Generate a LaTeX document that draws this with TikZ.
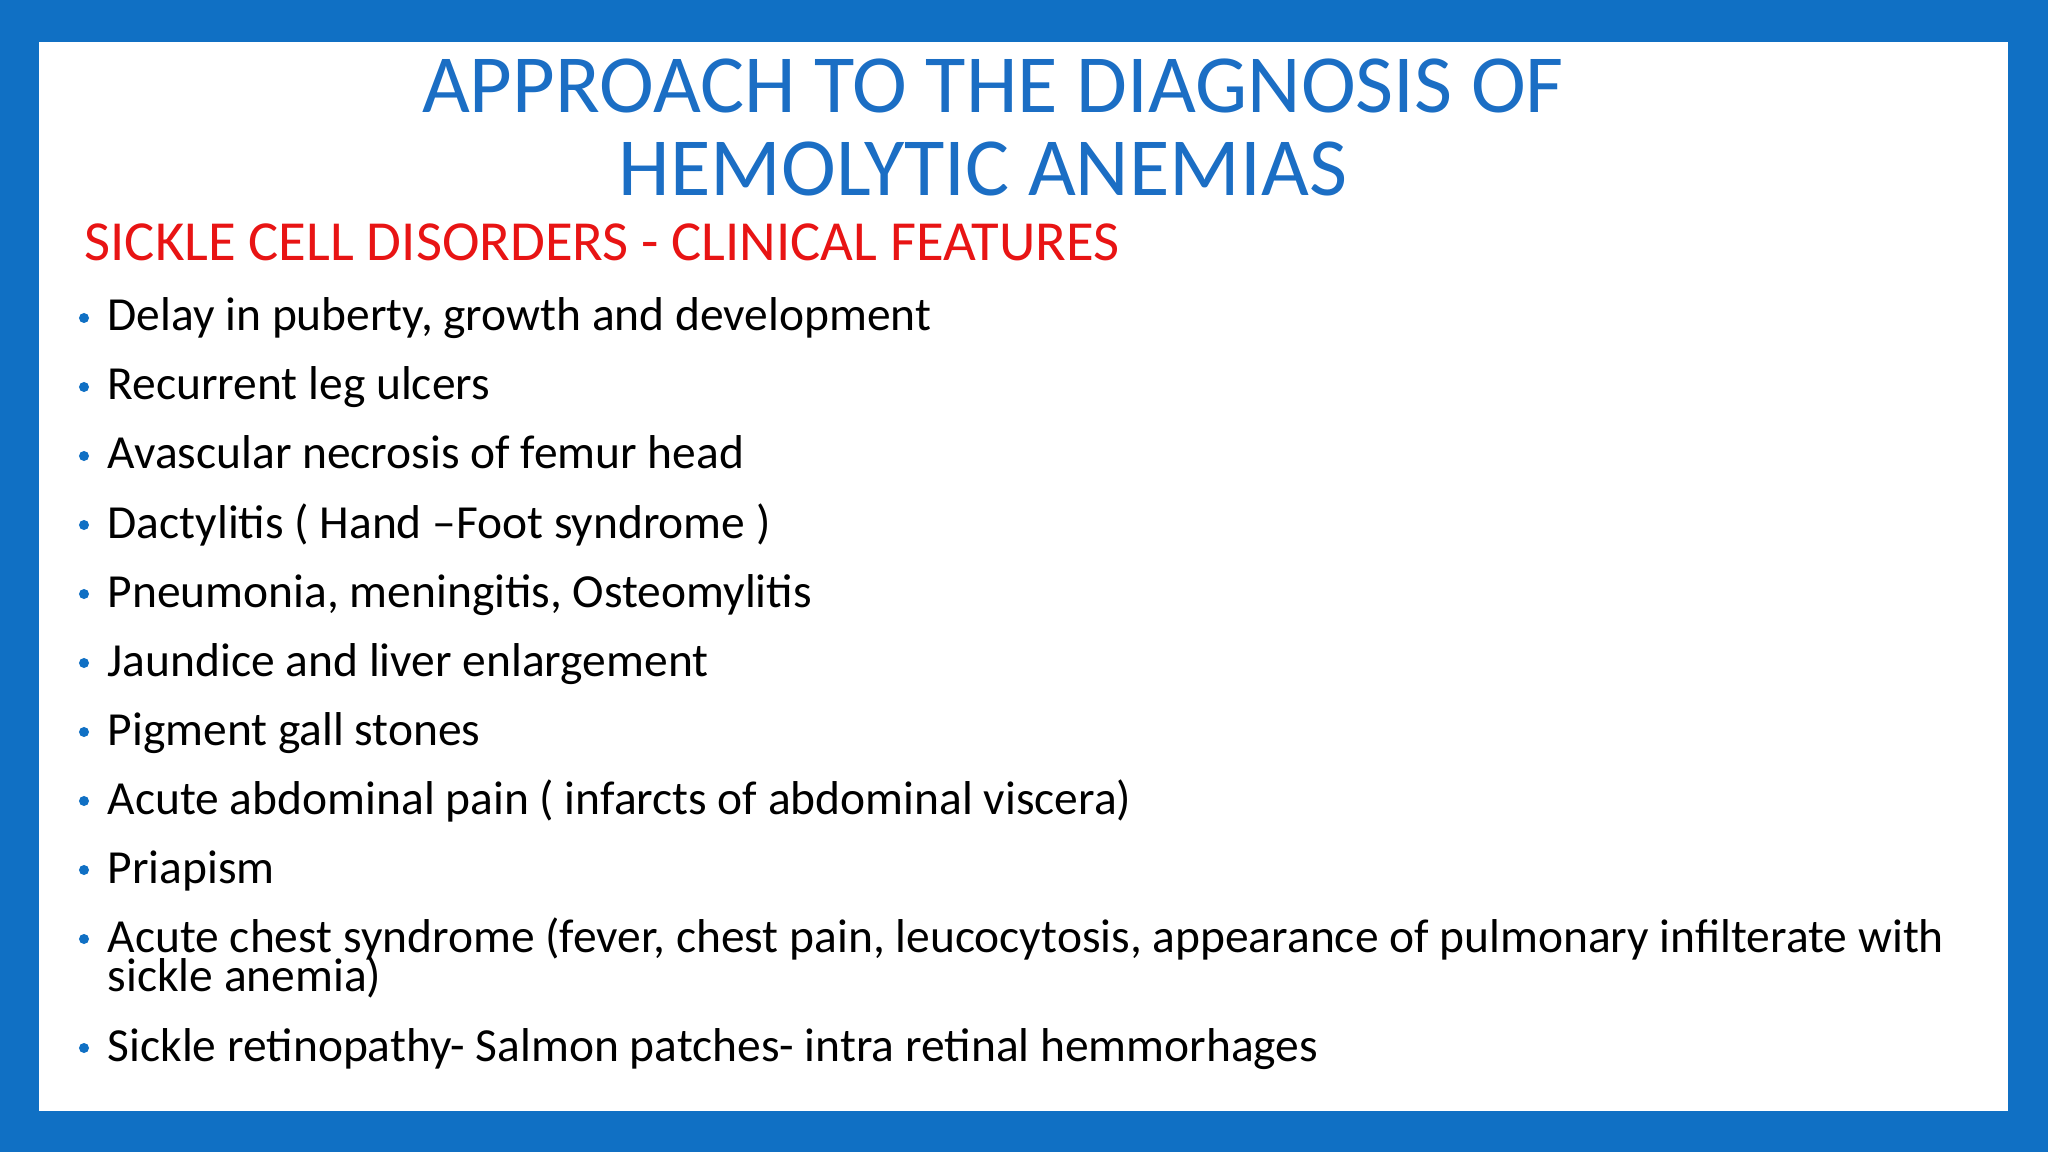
\documentclass[tikz,border=0pt]{standalone}
\usepackage{fontspec}
\setmainfont{Carlito}
\definecolor{frame}{RGB}{16,112,196}
\definecolor{ttl}{RGB}{27,110,196}
\definecolor{sub}{RGB}{232,20,20}
\begin{document}
\begin{tikzpicture}[x=0.01cm,y=-0.01cm,
  item/.style={anchor=base west,font=\fontsize{13.5}{15}\selectfont,inner sep=0pt},
  dot/.style={circle,fill=frame,inner sep=0pt,minimum size=0.1cm}]
\useasboundingbox (0,0) rectangle (2048,1152);
\fill[frame] (0,0) rectangle (2048,1152);
\fill[white] (39,42) rectangle (2008,1111);
\node[font=\fontsize{23.5}{26}\selectfont,text=ttl,inner sep=0pt] (t1) at (993,86) {APPROACH TO THE DIAGNOSIS OF};
\node[font=\fontsize{23.5}{26}\selectfont,text=ttl,inner sep=0pt] (t2) at (983,169) {HEMOLYTIC ANEMIAS};
\node[font=\fontsize{16.1}{18}\selectfont,text=sub,anchor=base west,inner sep=0pt] (s) at (84,261) {SICKLE CELL DISORDERS - CLINICAL FEATURES};
\foreach \i/\t in {0/{Delay in puberty, growth and development},
 1/{Recurrent leg ulcers},
 2/{Avascular necrosis of femur head},
 3/{Dactylitis ( Hand –Foot syndrome )},
 4/{Pneumonia, meningitis, Osteomylitis},
 5/{Jaundice and liver enlargement},
 6/{Pigment gall stones},
 7/{Acute abdominal pain ( infarcts of abdominal viscera)},
 8/{Priapism}}{
  \node[item] (b\i) at (107,{331+69*\i}) {\t};
  \node[dot] (d\i) at (84,{318+69*\i}) {};
}
\node[item] (b9) at (107,952) {Acute chest syndrome (fever, chest pain, leucocytosis, appearance of pulmonary infilterate with};
\node[item] (b9b) at (107,991) {sickle anemia)};
\node[dot] (d9) at (84,939) {};
\node[item] (b10) at (107,1061) {Sickle retinopathy- Salmon patches- intra retinal hemmorhages};
\node[dot] (d10) at (84,1048) {};
\end{tikzpicture}
\end{document}
